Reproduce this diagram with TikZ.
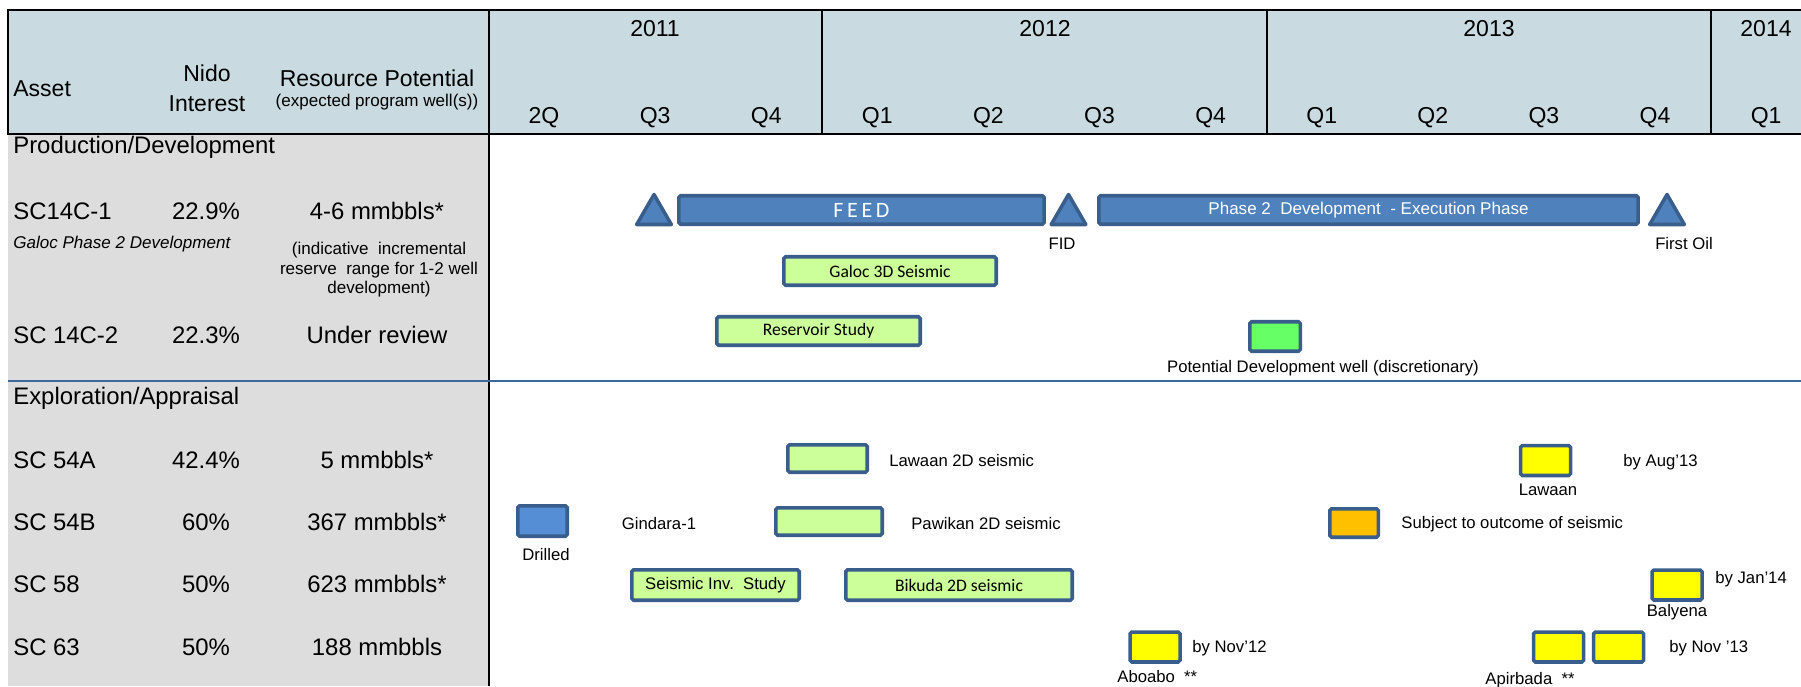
\documentclass[tikz,border=0pt]{standalone}
\usepackage{fontspec}
\setmainfont{Liberation Sans}
\newfontfamily\calibrifont{Carlito}
\usepackage{xcolor}
\usetikzlibrary{shapes.geometric,positioning}
\definecolor{nidoHead}{HTML}{C9DBE0}
\definecolor{nidoGrey}{HTML}{DDDDDD}
\definecolor{nidoEdge}{HTML}{3A5E8C}
\definecolor{nidoBlue}{HTML}{4F81BD}
\definecolor{nidoSky}{HTML}{558ED5}
\definecolor{nidoLime}{HTML}{CCFF99}
\definecolor{nidoGreen}{HTML}{66FF66}
\definecolor{nidoYellow}{HTML}{FFFF00}
\definecolor{nidoOrange}{HTML}{FFC000}
\definecolor{nidoRule}{HTML}{3D6899}
\begin{document}
\begin{tikzpicture}[x=0.02cm,y=-0.02cm,
  hdr/.style={inner sep=0,font=\fontsize{13.1}{17.1}\selectfont},
  rowtxt/.style={inner sep=0,font=\fontsize{13.6}{16}\selectfont},
  note/.style={inner sep=0,font=\fontsize{9.7}{11.1}\selectfont,align=center},
  lbl/.style={inner sep=0,font=\fontsize{9.5}{11}\selectfont},
  bar/.style={draw=nidoEdge,line width=2pt,rounded corners=1pt,inner sep=0,minimum height=0.57cm},
  task/.style={bar,fill=nidoLime,font=\calibrifont\fontsize{10}{12}\selectfont},
  well/.style={bar,fill=nidoYellow,minimum width=1cm,minimum height=0.6cm},
  mile/.style={regular polygon,regular polygon sides=3,draw=nidoEdge,fill=nidoBlue,line width=2pt,line join=round,inner sep=0,minimum size=0.8cm}]
\useasboundingbox (0,0) rectangle (1801,686);
\fill[white] (0,0) rectangle (1801,686);
\fill[nidoHead] (8,10) rectangle (1801,134);
\fill[nidoGrey] (8,134) rectangle (489,686);
\draw[line width=1.2pt] (1801,10) -- (8,10) -- (8,134) -- (1801,134);
\draw[line width=1.2pt] (489,10) -- (489,686);
\foreach \x in {822,1267,1711} \draw[line width=1.2pt] (\x,10) -- (\x,134);
\draw[nidoRule,line width=1.6pt] (8,381) -- (1801,381);
% header
\node[hdr,anchor=west] (asset) at (13,89) {Asset};
\node[hdr,align=center] (interest) at (207,88) {Nido\\Interest};
\node[hdr] (resource) at (377,78) {Resource Potential};
\node[lbl,font=\fontsize{9.7}{11}\selectfont] (program) at (377,102) {(expected program well(s))};
\foreach \yr/\x in {2011/655,2012/1045,2013/1489,2014/1766}
  \node[hdr] (y\yr) at (\x,29) {\yr};
\foreach \q [count=\i from 0] in {2Q,Q3,Q4,Q1,Q2,Q3,Q4,Q1,Q2,Q3,Q4,Q1}
  \node[hdr] (q\i) at (544+111.1*\i,118) {\q};
% assets
\node[rowtxt,anchor=west] (prod) at (13,147) {Production/Development};
\node[rowtxt,anchor=west] (expl) at (13,398) {Exploration/Appraisal};
\foreach \id/\asset/\share/\res/\y in {c1/SC14C-1/22.9\%/4-6 mmbbls*/211,c2/SC 14C-2/22.3\%/Under review/335,a54/SC 54A/42.4\%/5 mmbbls*/460,b54/SC 54B/60\%/367 mmbbls*/522,s58/SC 58/50\%/623 mmbbls*/584,s63/SC 63/50\%/188 mmbbls/647}
{
  \node[rowtxt,anchor=west] (asset-\id) at (13,\y) {\asset};
  \node[rowtxt] (share-\id) at (206,\y) {\share};
  \node[rowtxt] (res-\id) at (377,\y) {\res};
}
\node[lbl,anchor=west,font=\fontsize{9.7}{11}\selectfont\itshape] (galoc) at (13,244) {Galoc Phase 2 Development};
\node[note] (range) at (379,270) {(indicative\ \ incremental\\reserve\ \ range for 1-2 well\\development)};
% production timeline
\node[mile] (kick) at (654,214.5) {};
\node[bar,fill=nidoBlue,minimum width=7.31cm,text=white,font=\calibrifont\fontsize{12.5}{14}\selectfont] (feed) at (861.5,210) {F\,E\,E\,D};
\node[mile] (fid) at (1068.5,214.5) {};
\node[bar,fill=nidoBlue,minimum width=10.79cm,text=white,font=\fontsize{9.7}{11}\selectfont] (phase2) at (1368.5,210) {Phase 2\ \ Development\ \ - Execution Phase};
\node[mile] (oil) at (1667,214.5) {};
\node[lbl] (fidtxt) at (1062,244) {FID};
\node[lbl] (oiltxt) at (1684,244) {First Oil};
\node[task,minimum width=4.25cm] (galoc3d) at (890,271) {Galoc 3D Seismic};
\node[task,minimum width=4.07cm] (resstudy) at (818.5,331) {Reservoir Study};
\node[bar,fill=nidoGreen,minimum width=1.01cm,minimum height=0.59cm] (devwell) at (1275,336.5) {};
\node[lbl] (devtxt) at (1323,368) {Potential Development well (discretionary)};
% exploration timeline
\node[task,minimum width=1.59cm,minimum height=0.55cm] (lawseis) at (827.5,458.5) {};
\node[lbl,anchor=west] (lawtxt) at (889,461) {Lawaan 2D seismic};
\node[well] (lawaan) at (1545.5,460.5) {};
\node[lbl,anchor=west] (augtxt) at (1623,462) {by Aug'13};
\node[lbl] (lawname) at (1548,490) {Lawaan};
\node[bar,fill=nidoSky,minimum width=0.99cm,minimum height=0.61cm] (gindara) at (542.5,521) {};
\node[lbl] (gindtxt) at (659,524) {Gindara-1};
\node[lbl] (drilled) at (546,555) {Drilled};
\node[task,minimum width=2.13cm,minimum height=0.55cm] (pawseis) at (829,521.5) {};
\node[lbl,anchor=west] (pawtxt) at (911,524) {Pawikan 2D seismic};
\node[bar,fill=nidoOrange,minimum width=0.97cm] (subject) at (1354,523) {};
\node[lbl,anchor=west] (subjtxt) at (1401,524) {Subject to outcome of seismic};
\node[task,minimum width=3.35cm,minimum height=0.61cm,font=\fontsize{9.5}{11}\selectfont] (invstudy) at (715.5,585) {Seismic Inv.\ \ Study};
\node[task,minimum width=4.53cm,minimum height=0.61cm] (bikuda) at (959,585) {Bikuda 2D seismic};
\node[well] (balyena) at (1677,585) {};
\node[lbl,anchor=west] (jantxt) at (1715,579) {by Jan'14};
\node[lbl] (balname) at (1677,612) {Balyena};
\node[well] (aboabo) at (1155,647) {};
\node[lbl,anchor=west] (novtxt) at (1192,648) {by Nov'12};
\node[lbl,anchor=west] (aboname) at (1117,677) {Aboabo\ \ **};
\node[well] (apir1) at (1558.5,647) {};
\node[well] (apir2) at (1618.5,647) {};
\node[lbl,anchor=west] (nov13) at (1669,648) {by Nov '13};
\node[lbl] (apirname) at (1530,680) {Apirbada\ \ **};
\end{tikzpicture}
\end{document}
